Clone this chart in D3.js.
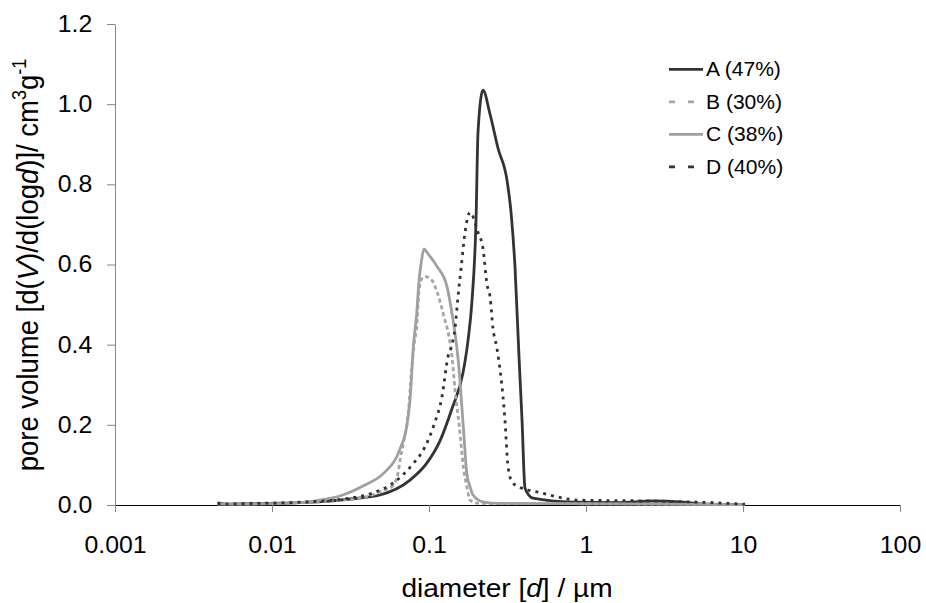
<!DOCTYPE html>
<html>
<head>
<meta charset="utf-8">
<script src="https://cdn.jsdelivr.net/npm/d3@7"></script>
<style>
  body { margin: 0; background: #fff; }
  svg { display: block; font-family: "Liberation Sans", Arial, sans-serif; }
</style>
</head>
<body>
<svg id="chart" width="926" height="603"></svg>
<script>
// diameters in µm, pore volume in cm3/g
const aDiam = [0.0045, 0.0052, 0.0062, 0.0151, 0.0314, 0.0487, 0.0757, 0.0971, 0.1175, 0.140, 0.1647, 0.1772, 0.1879, 0.1993, 0.2052, 0.2208, 0.2447, 0.2752, 0.3140, 0.3330, 0.3530, 0.3744, 0.3913, 0.4088, 0.4597, 0.8264, 1.6, 2.672, 3.971, 5.322, 10.3];
const aVol  = [0.005, 0.002, 0.003, 0.006, 0.015, 0.025, 0.062, 0.105, 0.16, 0.24, 0.33, 0.41, 0.51, 0.71, 0.93, 1.035, 0.975, 0.89, 0.81, 0.73, 0.594, 0.369, 0.212, 0.042, 0.017, 0.007, 0.006, 0.010, 0.008, 0.003, 0.001];

const bDiam = [0.0045, 0.0062, 0.0151, 0.0271, 0.0403, 0.0517, 0.0581, 0.0635, 0.0654, 0.0693, 0.0738, 0.0776, 0.0803, 0.0835, 0.0864, 0.0903, 0.0943, 0.1015, 0.1125, 0.1192, 0.1246, 0.1341, 0.1401, 0.1464, 0.1560, 0.1654, 0.1739, 0.1825, 0.2052, 1.228, 10.3];
const bVol  = [0.003, 0.003, 0.006, 0.012, 0.021, 0.037, 0.046, 0.08, 0.112, 0.162, 0.229, 0.34, 0.40, 0.445, 0.535, 0.565, 0.57, 0.566, 0.532, 0.499, 0.47, 0.42, 0.37, 0.287, 0.195, 0.096, 0.046, 0.012, 0.004, 0.003, 0.001];

const cDiam = [0.0045, 0.0062, 0.0151, 0.0194, 0.0283, 0.0391, 0.0517, 0.0654, 0.0724, 0.0757, 0.0797, 0.0835, 0.0864, 0.0896, 0.0929, 0.0971, 0.1125, 0.1302, 0.1401, 0.1486, 0.1541, 0.1654, 0.1739, 0.1825, 0.1907, 0.2208, 0.2833, 1.228, 10.3];
const cVol  = [0.002, 0.002, 0.006, 0.011, 0.025, 0.05, 0.08, 0.14, 0.2, 0.262, 0.40, 0.478, 0.56, 0.61, 0.639, 0.63, 0.595, 0.545, 0.478, 0.41, 0.354, 0.195, 0.08, 0.046, 0.025, 0.008, 0.004, 0.003, 0.001];

const dDiam = [0.0045, 0.0052, 0.0062, 0.0151, 0.0314, 0.0453, 0.0607, 0.0780, 0.0943, 0.1076, 0.1210, 0.1321, 0.1401, 0.1464, 0.1530, 0.1600, 0.1696, 0.1825, 0.2052, 0.2208, 0.2342, 0.2447, 0.2557, 0.2711, 0.3049, 0.3185, 0.3380, 0.3689, 0.5093, 0.916, 2.556, 5.322, 10.3];
const dVol  = [0.004, 0.002, 0.003, 0.007, 0.017, 0.032, 0.058, 0.10, 0.145, 0.20, 0.27, 0.37, 0.40, 0.44, 0.52, 0.59, 0.68, 0.73, 0.68, 0.64, 0.55, 0.52, 0.44, 0.39, 0.21, 0.096, 0.058, 0.046, 0.031, 0.012, 0.01, 0.007, 0.002];

const seriesNames = ['A (47%)', 'B (30%)', 'C (38%)', 'D (40%)'];
const xTicks = [0.001, 0.01, 0.1, 1, 10, 100];
const yTicks = [0, 0.2, 0.4, 0.6, 0.8, 1.0, 1.2];

const styles = [
  { color: '#333333', dash: null, legendDash: null },
  { color: '#a6a6a6', dash: '4,3', legendDash: '6,13' },
  { color: '#a0a0a0', dash: null, legendDash: null },
  { color: '#333333', dash: '3,5', legendDash: '6,13' }
];

const series = [
  aDiam.map((d, i) => [d, aVol[i]]),
  bDiam.map((d, i) => [d, bVol[i]]),
  cDiam.map((d, i) => [d, cVol[i]]),
  dDiam.map((d, i) => [d, dVol[i]])
];

const svg = d3.select('#chart');
const stretch = 'scale(1.08,1)';

const x = d3.scaleLog().domain([0.001, 100]).range([115, 900]);
const y = d3.scaleLinear().domain([0, 1.2]).range([505, 24]);

// y axis
const yAxis = svg.append('g')
  .attr('transform', 'translate(115,0)')
  .call(d3.axisLeft(y).tickValues(yTicks).tickFormat(d3.format('.1f'))
    .tickSize(8).tickSizeOuter(0).tickPadding(13));
yAxis.select('.domain').attr('stroke', '#868686');
yAxis.selectAll('.tick line').attr('stroke', '#868686');
yAxis.selectAll('.tick text')
  .attr('font-size', 23).attr('fill', '#000')
  .attr('transform', stretch);

// x axis
const xAxis = svg.append('g')
  .attr('transform', 'translate(0,505)')
  .call(d3.axisBottom(x).tickValues(xTicks).tickFormat(d => String(d))
    .tickSize(7).tickSizeOuter(0).tickPadding(25));
xAxis.select('.domain').attr('stroke', '#000');
xAxis.selectAll('.tick line').attr('stroke', '#868686');
xAxis.selectAll('.tick text')
  .attr('font-size', 23).attr('fill', '#000')
  .attr('transform', stretch);

// curves
const line = d3.line()
  .x(d => x(d[0]))
  .y(d => y(d[1]))
  .curve(d3.curveMonotoneX);

svg.append('g').selectAll('path')
  .data(series)
  .join('path')
  .attr('d', line)
  .attr('fill', 'none')
  .attr('stroke', (d, i) => styles[i].color)
  .attr('stroke-width', 2.8)
  .attr('stroke-linejoin', 'round')
  .attr('stroke-dasharray', (d, i) => styles[i].dash);

// axis titles
const xTitle = svg.append('text')
  .attr('transform', 'translate(507,597) ' + stretch)
  .attr('text-anchor', 'middle')
  .attr('font-size', 26);
xTitle.append('tspan').text('diameter [');
xTitle.append('tspan').attr('font-style', 'italic').text('d');
xTitle.append('tspan').text('] / µm');

const yTitle = svg.append('text')
  .attr('transform', 'translate(38,265) ' + stretch + ' rotate(-90)')
  .attr('text-anchor', 'middle')
  .attr('font-size', 27.5);
yTitle.append('tspan').text('pore volume [d(');
yTitle.append('tspan').attr('font-style', 'italic').text('V');
yTitle.append('tspan').text(')/d(log');
yTitle.append('tspan').attr('font-style', 'italic').text('d');
yTitle.append('tspan').text(')]/ cm');
yTitle.append('tspan').attr('font-size', 18).attr('dy', -11).text('3');
yTitle.append('tspan').attr('dy', 11).text('g');
yTitle.append('tspan').attr('font-size', 18).attr('dy', -11).text('-1');

// legend
const legend = svg.append('g').selectAll('g')
  .data(seriesNames)
  .join('g')
  .attr('transform', (d, i) => `translate(0,${69.3 + i * 32.5})`);

legend.append('line')
  .attr('x1', 669).attr('x2', 703)
  .attr('y1', 0).attr('y2', 0)
  .attr('stroke', (d, i) => styles[i].color)
  .attr('stroke-width', 2.8)
  .attr('stroke-dasharray', (d, i) => styles[i].legendDash);

legend.append('text')
  .attr('transform', 'translate(706,7) ' + stretch)
  .attr('font-size', 19.5)
  .text(d => d);
</script>
</body>
</html>
